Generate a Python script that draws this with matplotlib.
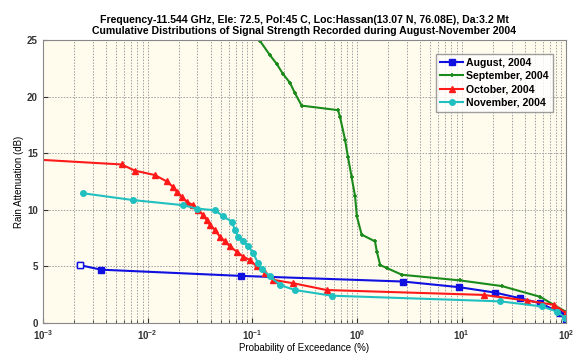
import numpy as np
import matplotlib
matplotlib.use("Agg")
import matplotlib.pyplot as plt
from matplotlib.ticker import LogLocator, NullFormatter

plt.rcParams["font.family"] = ["Liberation Sans", "DejaVu Sans"]

# 값은 그림에서 읽은 것 (확률 %, 감쇠 dB)
aug_p = [0.00226, 0.0036, 0.078, 2.78, 9.55, 21, 36.3, 56.4, 87.7, 98.5]
aug_db = [5.1, 4.7, 4.15, 3.65, 3.15, 2.67, 2.17, 1.73, 0.9, 0.2]

sep_p = [0.112, 0.119, 0.148, 0.171, 0.197, 0.230, 0.256, 0.297, 0.660, 0.690,
         0.77, 0.82, 0.89, 0.96, 1.0, 1.11, 1.49, 1.55, 1.67, 1.93, 2.69,
         9.7, 24.3, 56.4, 75.6, 98.5]
sep_db = [25.5, 24.9, 23.65, 22.9, 22.0, 21.2, 20.3, 19.2, 18.8, 18.2,
          16.2, 14.7, 12.9, 11.2, 9.4, 7.8, 7.2, 6.3, 5.1, 4.85, 4.25,
          3.75, 3.25, 2.3, 1.6, 1.0]

oct_p = [0.001, 0.00565, 0.00758, 0.01178, 0.01524, 0.0176, 0.019, 0.0212,
         0.0237, 0.0274, 0.0305, 0.0341, 0.0367, 0.0395, 0.0441, 0.0492,
         0.055, 0.0613, 0.0711, 0.0822, 0.0953, 0.110, 0.132, 0.159, 0.247,
         0.515, 16.2, 42.1, 75.6, 98.5]
oct_db = [14.4, 14.0, 13.45, 13.06, 12.5, 12.0, 11.6, 11.15, 10.7, 10.4,
          10.0, 9.5, 9.1, 8.65, 8.2, 7.6, 7.2, 6.75, 6.3, 5.85, 5.55, 5.0,
          4.4, 3.8, 3.5, 2.9, 2.47, 1.97, 1.6, 0.9]

nov_p = [0.00243, 0.0073, 0.0219, 0.0294, 0.0441, 0.053, 0.0637, 0.0685,
         0.0737, 0.0822, 0.0918, 0.1025, 0.114, 0.123, 0.148, 0.184, 0.256,
         0.575, 23.4, 58.6, 81.4, 97.5]
nov_db = [11.45, 10.85, 10.4, 10.1, 9.95, 9.4, 8.95, 8.2, 7.6, 7.2, 6.75,
          6.15, 5.25, 4.8, 4.1, 3.35, 2.9, 2.4, 1.9, 1.45, 1.0, 0.45]

labels = ["August, 2004", "September, 2004", "October, 2004", "November, 2004"]

fig = plt.figure(figsize=(5.79, 3.54), dpi=100)
ax = fig.add_axes([0.074, 0.088, 0.904, 0.799])
ax.set_facecolor("#fffcee")

ax.plot(aug_p, aug_db, color="#1010e0", lw=1.5, marker="s", ms=4, label=labels[0])
ax.plot(aug_p[:1], aug_db[:1], ls="none", marker="s", ms=4, mfc="white",
        mec="#1010e0", mew=1)
ax.plot(sep_p, sep_db, color="#1a8a1a", lw=1.5, marker="+", ms=3, mew=1.2,
        label=labels[1])
ax.plot(oct_p, oct_db, color="#ff1a1a", lw=1.5, marker="^", ms=4,
        markevery=list(range(1, len(oct_p))), label=labels[2])
ax.plot(nov_p, nov_db, color="#20c0c0", lw=1.5, marker="o", ms=4, label=labels[3])

ax.set_xscale("log")
ax.set_xlim(1e-3, 1e2)
ax.set_ylim(0, 25)
ax.set_yticks([0, 5, 10, 15, 20, 25])
ax.xaxis.set_major_locator(LogLocator(base=10, numticks=10))
ax.xaxis.set_minor_locator(LogLocator(base=10, subs=np.arange(2, 10), numticks=20))
ax.xaxis.set_minor_formatter(NullFormatter())

ax.grid(True, which="major", axis="both", color="#a0a0a0", ls=(0, (1.5, 1.5)), lw=0.7)
ax.grid(True, which="minor", axis="x", color="#a0a0a0", ls=(0, (1.5, 1.5)), lw=0.7)
ax.tick_params(which="both", direction="in", labelsize=7, colors="#333333")
for lab in ax.get_xticklabels() + ax.get_yticklabels():
    lab.set_fontweight("bold")
for s in ax.spines.values():
    s.set_color("#888888")

ax.set_xlabel("Probability of Exceedance (%)", fontsize=7, labelpad=1)
ax.set_ylabel("Rain Attenuation (dB)", fontsize=7, labelpad=2)
ax.set_title("Frequency-11.544 GHz, Ele: 72.5, Pol:45 C, Loc:Hassan(13.07 N, 76.08E), Da:3.2 Mt\n"
             "Cumulative Distributions of Signal Strength Recorded during August-November 2004",
             fontsize=7.6, fontweight="bold", pad=4)

handles, labs = ax.get_legend_handles_labels()
leg = ax.legend(handles, labs, loc="upper right", bbox_to_anchor=(0.985, 0.97),
                prop={"weight": "bold", "size": 7.6}, handlelength=2.2,
                fancybox=False, edgecolor="#888888", borderpad=0.4,
                labelspacing=0.3, handletextpad=0.3)
leg.get_frame().set_facecolor("white")

fig.savefig("out.png", dpi=100)
